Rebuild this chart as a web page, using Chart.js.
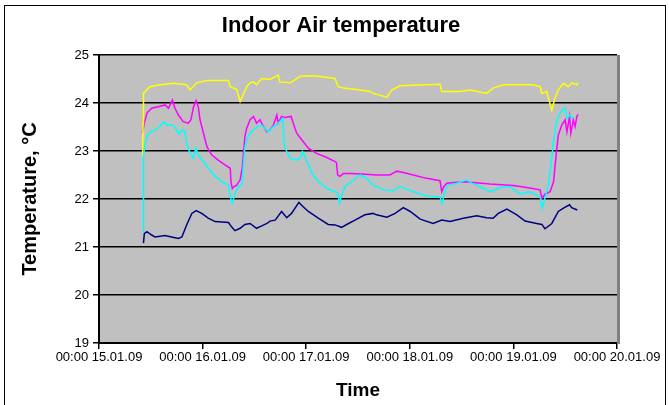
<!DOCTYPE html>
<html>
<head>
<meta charset="utf-8">
<script src="https://cdn.jsdelivr.net/npm/chart.js@4/dist/chart.umd.min.js"></script>
<style>
  html, body { margin: 0; padding: 0; background: #ffffff; }
  canvas { display: block; }
</style>
</head>
<body>
<canvas id="chart" width="669" height="405"></canvas>
<script>
// Time axis: hours since 00:00 15.01.09, one tick per day
const tickLabels = ["00:00 15.01.09", "00:00 16.01.09", "00:00 17.01.09", "00:00 18.01.09", "00:00 19.01.09", "00:00 20.01.09"];

// Yellow sensor
const yellowHours = [10.1, 10.2, 10.3, 11.8, 13.4, 17.2, 20.3, 21.1, 22.6, 25.0, 29.6, 30.0, 30.4, 31.9, 32.7, 33.4, 34.2, 35.0, 35.8, 36.5, 37.7, 39.6, 41.5, 41.9, 44.3, 45.4, 46.6, 48.9, 51.2, 54.7, 55.4, 56.6, 59.7, 60.5, 62.8, 63.5, 66.7, 67.8, 69.7, 79.0, 79.4, 83.6, 86.0, 89.8, 91.3, 93.7, 100.6, 102.2, 102.6, 103.7, 104.9, 105.6, 106.4, 107.6, 108.7, 109.5, 110.7, 111.0];
const yellowTemp = [22.88, 23.58, 24.2, 24.34, 24.37, 24.41, 24.38, 24.27, 24.42, 24.47, 24.47, 24.47, 24.34, 24.28, 24.03, 24.17, 24.34, 24.42, 24.44, 24.38, 24.51, 24.49, 24.58, 24.44, 24.42, 24.48, 24.56, 24.57, 24.55, 24.51, 24.34, 24.31, 24.28, 24.27, 24.24, 24.2, 24.12, 24.27, 24.36, 24.39, 24.24, 24.24, 24.27, 24.2, 24.31, 24.38, 24.38, 24.34, 24.2, 24.24, 23.85, 24.1, 24.27, 24.41, 24.34, 24.42, 24.38, 24.42];

// Magenta sensor
const magentaHours = [10.0, 10.5, 11.1, 12.2, 13.7, 15.3, 16.1, 17.0, 17.6, 18.4, 19.5, 20.7, 21.3, 21.9, 22.5, 23.0, 23.4, 24.2, 25.0, 26.1, 27.6, 29.2, 30.4, 30.6, 30.9, 31.3, 31.9, 32.7, 33.2, 33.8, 34.2, 35.0, 35.8, 36.5, 37.3, 38.1, 38.9, 39.6, 40.4, 41.2, 41.5, 42.3, 43.1, 44.5, 45.0, 45.8, 47.0, 48.5, 50.4, 52.4, 54.7, 55.0, 55.3, 55.8, 56.6, 58.5, 60.9, 64.3, 67.4, 69.0, 70.5, 72.8, 75.9, 79.0, 79.4, 79.9, 80.6, 82.9, 85.2, 86.0, 90.6, 96.0, 99.1, 102.2, 102.6, 103.3, 104.5, 105.3, 105.9, 106.4, 107.2, 108.0, 108.4, 109.0, 109.3, 109.9, 110.3, 110.7, 111.0];
const magentaTemp = [23.37, 23.58, 23.79, 23.89, 23.92, 23.96, 23.89, 24.06, 23.89, 23.75, 23.61, 23.58, 23.65, 23.92, 24.05, 23.92, 23.65, 23.37, 23.09, 22.92, 22.81, 22.71, 22.64, 22.33, 22.22, 22.26, 22.29, 22.4, 22.67, 23.3, 23.47, 23.65, 23.72, 23.58, 23.65, 23.51, 23.4, 23.44, 23.54, 23.75, 23.58, 23.72, 23.7, 23.72, 23.58, 23.37, 23.23, 23.06, 22.95, 22.88, 22.78, 22.76, 22.5, 22.47, 22.53, 22.53, 22.52, 22.5, 22.5, 22.58, 22.55, 22.5, 22.43, 22.38, 22.15, 22.26, 22.33, 22.35, 22.36, 22.35, 22.31, 22.28, 22.24, 22.19, 22.01, 22.1, 22.15, 22.36, 22.92, 23.33, 23.54, 23.65, 23.4, 23.72, 23.37, 23.65, 23.51, 23.72, 23.76];

// Cyan sensor
const cyanHours = [10.2, 10.3, 10.7, 11.4, 13.0, 14.1, 15.1, 15.7, 17.2, 18.0, 18.5, 19.2, 19.9, 20.3, 21.1, 21.9, 22.4, 23.0, 24.2, 25.3, 26.9, 28.4, 30.0, 30.6, 30.9, 31.5, 32.3, 33.1, 33.4, 33.8, 34.6, 36.1, 37.7, 39.2, 40.4, 41.5, 42.3, 42.6, 42.9, 43.5, 44.3, 45.8, 46.6, 47.1, 47.7, 48.5, 49.6, 50.8, 52.8, 54.7, 55.3, 55.7, 56.2, 57.0, 58.5, 60.5, 62.0, 63.5, 65.9, 68.2, 69.7, 71.3, 73.6, 75.9, 79.0, 79.5, 80.2, 80.9, 82.9, 85.2, 86.3, 88.3, 90.6, 92.9, 95.2, 97.5, 99.5, 101.4, 102.2, 102.7, 103.3, 104.1, 104.6, 105.3, 106.0, 106.8, 107.6, 108.0, 108.4, 109.1, 109.9];
const cyanTemp = [21.32, 22.88, 23.16, 23.37, 23.44, 23.51, 23.61, 23.54, 23.54, 23.44, 23.35, 23.44, 23.4, 23.16, 22.95, 22.85, 23.06, 22.92, 22.78, 22.64, 22.47, 22.36, 22.29, 21.98, 21.91, 22.12, 22.26, 22.29, 22.67, 23.09, 23.33, 23.47, 23.54, 23.4, 23.51, 23.58, 23.65, 23.68, 23.12, 22.99, 22.85, 22.81, 22.85, 22.99, 22.88, 22.71, 22.5, 22.36, 22.22, 22.15, 22.12, 21.91, 22.08, 22.26, 22.36, 22.5, 22.43, 22.29, 22.19, 22.17, 22.26, 22.2, 22.13, 22.06, 22.04, 21.91, 22.19, 22.29, 22.33, 22.4, 22.33, 22.26, 22.15, 22.24, 22.26, 22.1, 22.15, 22.08, 22.05, 21.81, 22.01, 22.29, 22.64, 23.19, 23.61, 23.79, 23.88, 23.89, 23.68, 23.75, 23.68];

// Navy sensor
const navyHours = [10.3, 10.5, 11.1, 12.2, 13.0, 15.3, 16.8, 18.4, 19.2, 20.3, 21.5, 22.5, 23.8, 25.3, 26.9, 30.0, 30.7, 31.5, 32.7, 33.8, 35.0, 36.5, 37.7, 38.9, 39.6, 40.8, 42.3, 43.5, 44.6, 46.3, 47.3, 48.5, 50.8, 53.1, 54.7, 56.2, 57.8, 59.3, 61.6, 63.5, 64.3, 66.7, 68.6, 70.5, 72.1, 74.4, 77.4, 79.4, 81.3, 84.4, 87.5, 89.8, 91.3, 92.5, 94.5, 96.8, 98.7, 101.4, 102.6, 103.3, 104.9, 106.4, 107.6, 109.0, 109.5, 110.8];
const navyTemp = [21.08, 21.28, 21.32, 21.25, 21.21, 21.24, 21.21, 21.18, 21.21, 21.46, 21.7, 21.76, 21.7, 21.6, 21.53, 21.51, 21.42, 21.34, 21.39, 21.47, 21.49, 21.39, 21.44, 21.49, 21.54, 21.56, 21.74, 21.61, 21.7, 21.93, 21.84, 21.74, 21.6, 21.47, 21.46, 21.41, 21.49, 21.56, 21.67, 21.7, 21.67, 21.62, 21.7, 21.82, 21.74, 21.58, 21.49, 21.56, 21.53, 21.6, 21.65, 21.61, 21.6, 21.7, 21.79, 21.67, 21.54, 21.49, 21.47, 21.38, 21.49, 21.74, 21.81, 21.88, 21.82, 21.77];

const FONT = "'Liberation Sans', Arial, Helvetica, sans-serif";

function points(hours, temps) {
  return hours.map((h, i) => ({ x: h, y: temps[i] }));
}

function series(label, hours, temps, color) {
  return {
    label: label,
    data: points(hours, temps),
    borderColor: color,
    backgroundColor: color,
    borderWidth: 1.5,
    pointRadius: 0,
    tension: 0,
    fill: false
  };
}

// Grey plot area, its right-hand shadow and the outer chart frame
const framePlugin = {
  id: 'frame',
  beforeDraw(chart) {
    const ctx = chart.ctx;
    const a = chart.chartArea;
    ctx.save();
    ctx.fillStyle = '#ffffff';
    ctx.fillRect(0, 0, chart.width, chart.height);
    ctx.fillStyle = '#c0c0c0';
    ctx.fillRect(a.left, a.top, a.right - a.left, a.bottom - a.top);
    ctx.restore();
  },
  afterDraw(chart) {
    const ctx = chart.ctx;
    const a = chart.chartArea;
    ctx.save();
    ctx.fillStyle = '#808080';
    ctx.fillRect(a.right, a.top, 3, a.bottom - a.top + 1);
    ctx.strokeStyle = '#000000';
    ctx.lineWidth = 1;
    ctx.strokeRect(4.5, 5.5, 661, 430);
    ctx.restore();
  }
};

new Chart(document.getElementById('chart'), {
  type: 'line',
  data: {
    datasets: [
      series('Cyan', cyanHours, cyanTemp, '#00ffff'),
      series('Yellow', yellowHours, yellowTemp, '#ffff00'),
      series('Magenta', magentaHours, magentaTemp, '#ff00ff'),
      series('Navy', navyHours, navyTemp, '#000080')
    ]
  },
  options: {
    responsive: false,
    animation: false,
    devicePixelRatio: 1,
    layout: { padding: { left: 13, right: 0, top: 0, bottom: 0 } },
    plugins: {
      legend: { display: false },
      tooltip: { enabled: false },
      title: {
        display: true,
        text: 'Indoor Air temperature',
        color: '#000000',
        font: { family: FONT, size: 22, weight: 'bold', lineHeight: 1.2 },
        padding: { top: 13, bottom: 15.6 }
      }
    },
    scales: {
      x: {
        type: 'linear',
        min: 0,
        max: 120,
        ticks: {
          stepSize: 24,
          autoSkip: false,
          maxRotation: 0,
          minRotation: 0,
          padding: 1,
          color: '#000000',
          font: { family: FONT, size: 13 },
          callback: (v) => tickLabels[Math.round(v / 24)]
        },
        grid: { drawOnChartArea: false, tickLength: 6, color: '#000000', lineWidth: 1.5 },
        border: { color: '#000000', width: 2 },
        title: {
          display: true,
          text: 'Time',
          color: '#000000',
          font: { family: FONT, size: 19, weight: 'bold', lineHeight: 1.2 },
          padding: { top: 0, bottom: 3 }
        },
        afterFit(scale) { scale.height = 62; }
      },
      y: {
        position: 'left',
        min: 19,
        max: 25,
        ticks: {
          stepSize: 1,
          padding: 4,
          color: '#000000',
          font: { family: FONT, size: 13 }
        },
        grid: { color: '#000000', lineWidth: 1.5, tickLength: 6, tickColor: '#000000' },
        border: { color: '#000000', width: 2 },
        title: {
          display: true,
          text: 'Temperature, °C',
          color: '#000000',
          font: { family: FONT, size: 20, weight: 'bold', lineHeight: 1.2 },
          padding: { top: 5, bottom: 0 }
        },
        afterFit(scale) { scale.width = 86; }
      },
      spacer: {
        position: 'right',
        min: 19,
        max: 25,
        display: true,
        ticks: { display: false },
        grid: { display: false, drawTicks: false },
        border: { display: false },
        afterFit(scale) { scale.width = 52; }
      }
    }
  },
  plugins: [framePlugin]
});
</script>
</body>
</html>
